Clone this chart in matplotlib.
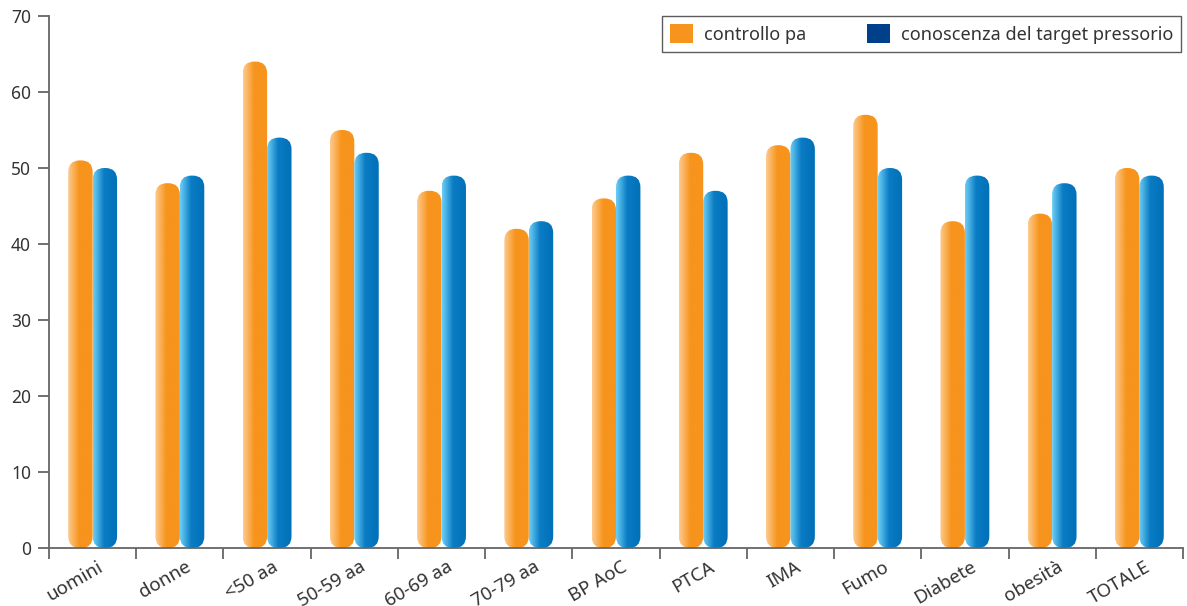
import matplotlib.pyplot as plt
import numpy as np
from matplotlib.patches import FancyBboxPatch, Patch
from matplotlib.colors import LinearSegmentedColormap
from matplotlib.transforms import ScaledTranslation

plt.rcParams['font.family'] = ['Noto Sans', 'DejaVu Sans']

categories = ['uomini', 'donne', '<50 aa', '50-59 aa', '60-69 aa', '70-79 aa', 'BP AoC',
              'PTCA', 'IMA', 'Fumo', 'Diabete', 'obesità', 'TOTALE']
controllo_pa = [51, 48, 64, 55, 47, 42, 46, 52, 53, 57, 43, 44, 50]
conoscenza_target = [50, 49, 54, 52, 49, 43, 49, 47, 54, 50, 49, 48, 49]
series_names = ['controllo pa', 'conoscenza del target pressorio']

axis_col = '#666666'
text_col = '#333333'

# gradienti orizzontali: chiaro a sinistra, pieno da circa metà barra
cmap_orange = LinearSegmentedColormap.from_list(
    'or', [(0, '#FDCB91'), (0.45, '#F7941D'), (1, '#F7941D')])
cmap_blue = LinearSegmentedColormap.from_list(
    'bl', [(0, '#6DCFF6'), (0.45, '#0A7CC4'), (1, '#0070B8')])

fig = plt.figure(figsize=(11.87, 6.06), dpi=100)
ax = fig.add_axes([0.0413, 0.0957, 0.9553, 0.8779])

x = np.arange(len(categories))
w = 0.28
ax.set_xlim(-0.5, len(categories) - 0.5)
ax.set_ylim(0, 70)

# rapporto unità y / unità x per pixel, serve per arrotondare gli angoli
p0 = ax.transData.transform((0, 0))
p1 = ax.transData.transform((1, 1))
aspect = (p1[0] - p0[0]) / (p1[1] - p0[1])

grad = np.linspace(0, 1, 256).reshape(1, -1)


def draw_bars(vals, offset, cmap):
    bars = ax.bar(x + offset, vals, w, color='none', edgecolor='none')
    for b in bars:
        bx, by = b.get_x(), b.get_y()
        bw, bh = b.get_width(), b.get_height()
        r = bw / 2 * 0.95
        patch = FancyBboxPatch((bx, by), bw, bh,
                               boxstyle='round,pad=0,rounding_size=%f' % r,
                               mutation_aspect=aspect,
                               facecolor='none', edgecolor='none')
        ax.add_patch(patch)
        im = ax.imshow(grad, cmap=cmap, aspect='auto',
                       extent=(bx, bx + bw, by, by + bh), zorder=2)
        im.set_clip_path(patch)


draw_bars(controllo_pa, -w / 2, cmap_orange)
draw_bars(conoscenza_target, w / 2, cmap_blue)

ax.set_xlim(-0.5, len(categories) - 0.5)
ax.set_ylim(0, 70)
ax.set_aspect('auto')

for s in ['top', 'right']:
    ax.spines[s].set_visible(False)
for s in ['left', 'bottom']:
    ax.spines[s].set_color(axis_col)
    ax.spines[s].set_linewidth(1.3)

ax.set_yticks(np.arange(0, 71, 10))
ax.tick_params(axis='y', colors=axis_col, labelcolor=text_col, labelsize=12.5,
               length=8, width=1.3, pad=5)

ax.set_xticks(np.arange(len(categories) + 1) - 0.5)
ax.set_xticklabels([])
ax.tick_params(axis='x', colors=axis_col, length=8, width=1.3)
ax.set_xticks(x, minor=True)
ax.set_xticklabels(categories, minor=True, rotation=30, ha='right',
                   rotation_mode='anchor', fontsize=13.5, color=text_col)
ax.tick_params(axis='x', which='minor', length=0, pad=7)
shift = ScaledTranslation(0.05, 0, fig.dpi_scale_trans)
for lab in ax.get_xticklabels(minor=True):
    lab.set_transform(lab.get_transform() + shift)

handles = [Patch(facecolor='#F7941D', edgecolor='none'),
           Patch(facecolor='#003F8A', edgecolor='none')]
leg = ax.legend(handles, series_names, ncol=2, loc='upper right',
                bbox_to_anchor=(0.9985, 1.0), borderaxespad=0, fontsize=13,
                frameon=True, fancybox=False, edgecolor='#333333',
                handlelength=1.25, handleheight=1.25, columnspacing=3.4,
                handletextpad=0.6, borderpad=0.45, labelcolor=text_col)
leg.get_frame().set_linewidth(1.0)

fig.savefig('out.png', dpi=100)
